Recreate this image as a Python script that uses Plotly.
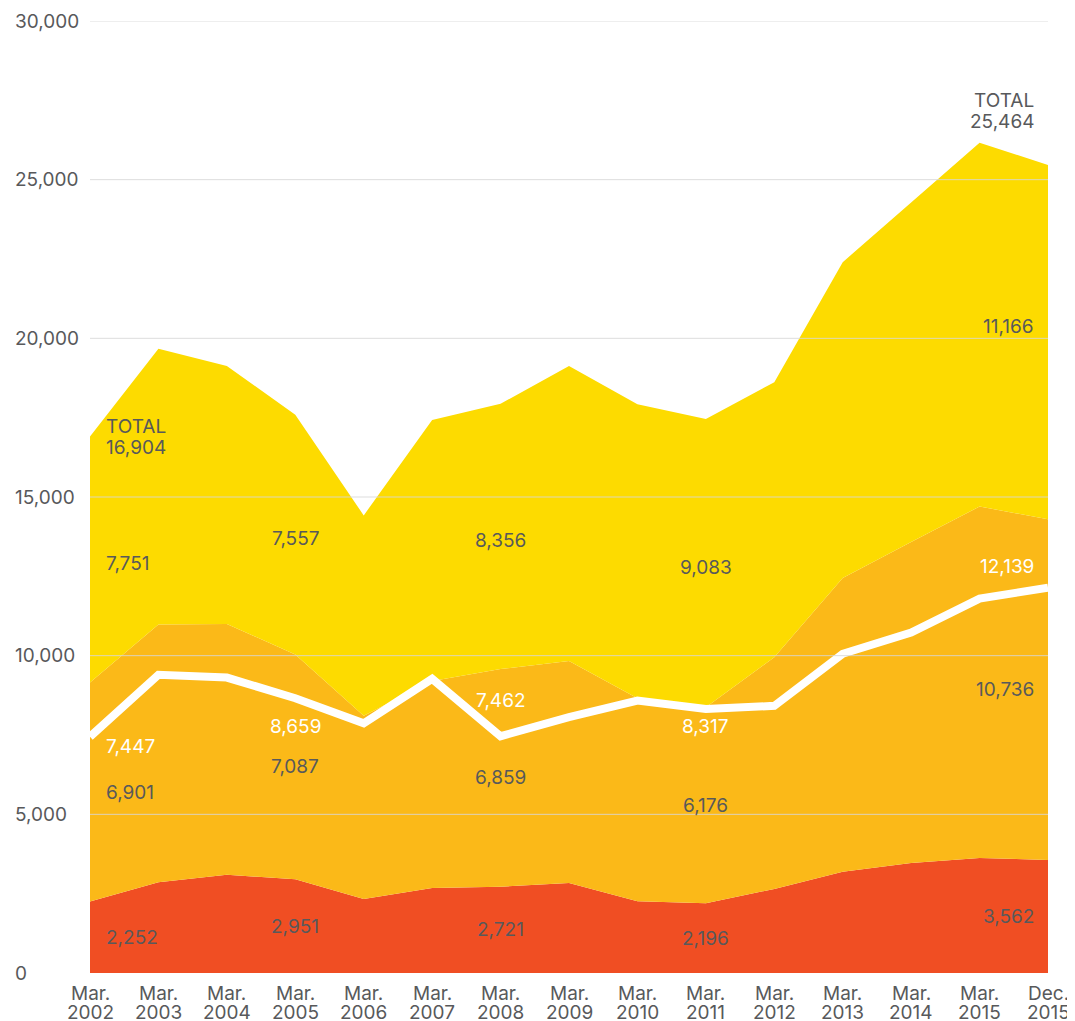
import plotly.graph_objects as go

# ---- data ----
period_month = ["Mar.", "Mar.", "Mar.", "Mar.", "Mar.", "Mar.", "Mar.", "Mar.", "Mar.", "Mar.",
                "Mar.", "Mar.", "Mar.", "Mar.", "Dec."]
period_year = ["2002", "2003", "2004", "2005", "2006", "2007", "2008", "2009", "2010", "2011",
               "2012", "2013", "2014", "2015", "2015"]

red_vals = [2252, 2860, 3100, 2951, 2330, 2680, 2721, 2840, 2260, 2196, 2650, 3190, 3470, 3625, 3562]
orange_vals = [6901, 8120, 7900, 7087, 5780, 6520, 6859, 6990, 6400, 6176, 7300, 9260, 10110, 11075, 10736]
yellow_vals = [7751, 8690, 8130, 7557, 6310, 8230, 8356, 9300, 9260, 9083, 8670, 9950, 10700, 11460, 11166]
line_vals = [7447, 9400, 9310, 8659, 7870, 9270, 7462, 8060, 8585, 8317, 8420, 10060, 10730, 11800, 12139]

y_ticks = [0, 5000, 10000, 15000, 20000, 25000, 30000]
label_idx = [0, 3, 6, 9, 14]

RED = "#F04E23"
ORANGE = "#FBB918"
YELLOW = "#FDDB00"
TEXT = "#58595B"
FONT = "Inter, Roboto, sans-serif"
FS = 19

x = list(range(len(period_year)))
n = len(x)
totals = [r + o + y for r, o, y in zip(red_vals, orange_vals, yellow_vals)]

fig = go.Figure()
for vals, col, name in [(red_vals, RED, "red"), (orange_vals, ORANGE, "orange"), (yellow_vals, YELLOW, "yellow")]:
    fig.add_trace(go.Scatter(x=x, y=vals, name=name, stackgroup="one", mode="lines",
                             line=dict(width=0, color=col), fillcolor=col, hoverinfo="skip"))

fig.add_trace(go.Scatter(x=x, y=line_vals, mode="lines", line=dict(color="white", width=8),
                         name="line", hoverinfo="skip"))


def font(c=TEXT):
    return dict(family=FONT, size=FS, color=c)


ann = []
for i in label_idx:
    if i == 0:
        xa, xs = "left", 14
    elif i == n - 1:
        xa, xs = "right", -12
    else:
        xa, xs = "center", 0
    r, o, yv = red_vals[i], orange_vals[i], yellow_vals[i]
    base = dict(x=i, xref="x", yref="y", xanchor=xa, xshift=xs, showarrow=False, font=font())
    ann.append(dict(base, y=r / 2, text=f"{r:,}"))
    ann.append(dict(base, y=r + o / 2, text=f"{o:,}"))
    ann.append(dict(base, y=r + o + yv / 2, text=f"{yv:,}", yshift=16 if i == n - 1 else -4))
    lshift = {0: -10, 3: -28, 6: 36, 9: -17, 14: 21}[i]
    ann.append(dict(base, y=line_vals[i], text=f"{line_vals[i]:,}", yshift=lshift, font=font("white")))

# total labels (two rows each)
for i, xa, xs, ys in [(0, "left", 14, 0), (n - 1, "right", -12, 54)]:
    for txt, dy in [("TOTAL", 10.5), (f"{totals[i]:,}", -10.5)]:
        ann.append(dict(x=i, y=totals[i], xref="x", yref="y", xanchor=xa, xshift=xs,
                        yshift=ys + dy, showarrow=False, text=txt, font=font()))

# y tick labels (left aligned)
for t in y_ticks:
    ann.append(dict(x=-0.0804, xref="paper", y=t, yref="y", xanchor="left", showarrow=False,
                    text=f"{t:,}", font=font()))

# x tick labels (two rows)
for i in x:
    ann.append(dict(x=i, xref="x", y=0, yref="paper", yanchor="middle", yshift=-20,
                    showarrow=False, text=period_month[i], font=font()))
    ann.append(dict(x=i, xref="x", y=0, yref="paper", yanchor="middle", yshift=-39,
                    showarrow=False, text=period_year[i], font=font()))

shapes = [dict(type="line", xref="paper", x0=0, x1=1, yref="y", y0=t, y1=t, layer="above",
               line=dict(color="rgba(215,215,215,0.85)", width=1)) for t in y_ticks if t > 0]

fig.update_layout(
    width=1067, height=1013,
    margin=dict(l=82, r=27, t=13, b=47.5, autoexpand=False),
    plot_bgcolor="white", paper_bgcolor="white",
    showlegend=False,
    annotations=ann, shapes=shapes,
    xaxis=dict(range=[0, n - 1], showgrid=False, zeroline=False, showline=False, ticks="",
               showticklabels=False, automargin=False),
    yaxis=dict(range=[0, 30000], showgrid=False, zeroline=False, showticklabels=False,
               automargin=False),
)

fig.write_html("out.html")
